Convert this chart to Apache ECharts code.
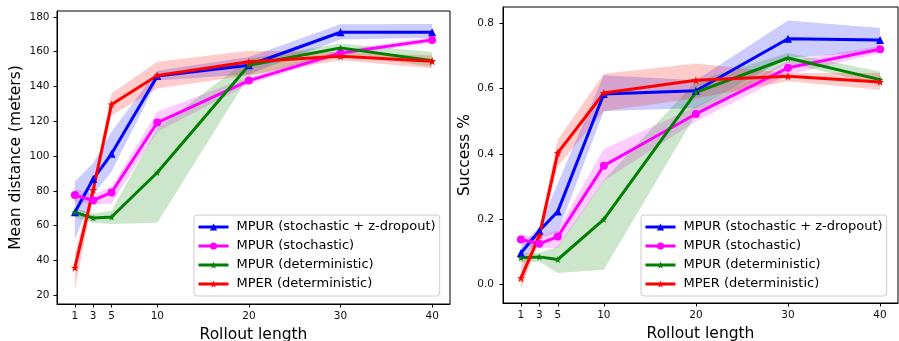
<!DOCTYPE html>
<html>
<head>
<meta charset="utf-8">
<script src="https://cdn.jsdelivr.net/npm/echarts@6/dist/echarts.min.js"></script>
<style>
  html, body { margin: 0; padding: 0; background: #fff; }
  #chart { width: 899px; height: 341px; }
</style>
</head>
<body>
<div id="chart"></div>
<script>
// rollout lengths (x)
const rollout = [1, 3, 5, 10, 20, 30, 40];

// left panel: mean distance (meters)
const distZdropMean = [67.7, 86.8, 101.3, 146.1, 152.2, 171.2, 171.2];
const distZdropLo   = [52, 78, 91, 143.5, 147, 167, 168];
const distZdropHi   = [85.3, 96, 114, 149, 157, 175.8, 176];
const distStochMean = [77.6, 74.5, 79.1, 119.3, 143.4, 159.3, 166.8];
const distStochLo   = [73.8, 72.4, 72.8, 114, 141.3, 158, 165];
const distStochHi   = [81.4, 77.6, 82.4, 125.5, 145.6, 160.9, 168.5];
const distDetMean   = [67.7, 64.4, 65, 90.6, 152.2, 162.2, 154.8];
const distDetLo     = [65, 61.7, 61, 61.7, 146, 159, 151.3];
const distDetHi     = [70, 67, 68.6, 116, 156, 164.7, 159.8];
const distMperMean  = [35.9, 80.5, 129.7, 146.3, 154.2, 157.4, 154.5];
const distMperLo    = [23, 76.7, 123.5, 138.9, 146.5, 155.1, 150.5];
const distMperHi    = [44, 83.3, 136, 154.2, 160.5, 159.9, 157.8];

// right panel: success rate
const sucZdropMean = [0.097, 0.165, 0.224, 0.583, 0.593, 0.752, 0.748];
const sucZdropLo   = [0.071, 0.143, 0.16, 0.53, 0.54, 0.693, 0.713];
const sucZdropHi   = [0.117, 0.178, 0.31, 0.64, 0.625, 0.808, 0.785];
const sucStochMean = [0.138, 0.125, 0.147, 0.364, 0.522, 0.663, 0.72];
const sucStochLo   = [0.122, 0.112, 0.112, 0.318, 0.499, 0.642, 0.708];
const sucStochHi   = [0.153, 0.146, 0.168, 0.415, 0.545, 0.683, 0.73];
const sucDetMean   = [0.082, 0.085, 0.077, 0.2, 0.588, 0.693, 0.627];
const sucDetLo     = [0.066, 0.071, 0.036, 0.046, 0.52, 0.678, 0.611];
const sucDetHi     = [0.097, 0.097, 0.117, 0.32, 0.622, 0.708, 0.652];
const sucMperMean  = [0.02, 0.15, 0.403, 0.586, 0.625, 0.637, 0.62];
const sucMperLo    = [-0.015, 0.137, 0.362, 0.53, 0.57, 0.622, 0.596];
const sucMperHi    = [0.056, 0.173, 0.443, 0.645, 0.676, 0.647, 0.647];

const names = ['MPUR (stochastic + z-dropout)', 'MPUR (stochastic)', 'MPUR (deterministic)', 'MPER (deterministic)'];
const xTicks = [1, 3, 5, 10, 20, 30, 40];
const distTicks = [20, 40, 60, 80, 100, 120, 140, 160, 180];
const sucTicks = [0, 0.2, 0.4, 0.6, 0.8];

const star = 'path://M0,-10L2.35,-3.24L9.51,-3.09L3.8,1.24L5.88,8.09L0,4L-5.88,8.09L-3.8,1.24L-9.51,-3.09L-2.35,-3.24Z';
const styles = [
  {color: '#0000ff', band: 'rgba(0,0,255,0.2)', symbol: 'triangle', size: 8},
  {color: '#ff00ff', band: 'rgba(255,0,255,0.2)', symbol: 'circle', size: 8},
  {color: '#008000', band: 'rgba(0,128,0,0.2)', symbol: star, size: 7},
  {color: '#ff0000', band: 'rgba(255,0,0,0.2)', symbol: star, size: 8}
];
const FONT = 'DejaVu Sans';

function zip(xs, a, b) {
  return xs.map((x, i) => b ? [x, a[i], b[i]] : [x, a[i]]);
}

function bandSeries(idx, lo, hi, k) {
  return {
    type: 'custom', name: 'band' + idx + k,
    xAxisIndex: idx, yAxisIndex: idx, z: 1, silent: true,
    data: zip(rollout, lo, hi),
    encode: {x: 0, y: [1, 2]},
    renderItem(params, api) {
      if (params.dataIndexInside !== 0) return;
      const n = params.dataInsideLength;
      const top = [], bot = [];
      for (let i = 0; i < n; i++) {
        top.push(api.coord([api.value(0, i), api.value(2, i)]));
        bot.push(api.coord([api.value(0, i), api.value(1, i)]));
      }
      return {
        type: 'polygon',
        shape: {points: top.concat(bot.reverse())},
        style: {fill: styles[k].band, stroke: null}
      };
    }
  };
}

function lineSeries(idx, vals, k) {
  const s = styles[k];
  return {
    type: 'line', name: names[k], xAxisIndex: idx, yAxisIndex: idx, z: 3,
    data: zip(rollout, vals),
    symbol: s.symbol, symbolSize: s.size, showAllSymbol: true,
    lineStyle: {width: 3, color: s.color},
    itemStyle: {color: s.color}
  };
}

function xAxis(idx) {
  return {
    type: 'value', gridIndex: idx, min: -0.95, max: 41.95,
    name: 'Rollout length', nameLocation: 'middle', nameGap: 22,
    nameTextStyle: {fontSize: 15.5, fontFamily: FONT, color: '#000'},
    axisLine: {show: true, onZero: false, lineStyle: {color: '#000', width: 1}},
    axisTick: {show: true, length: 3.5, customValues: xTicks, lineStyle: {color: '#000'}},
    axisLabel: {customValues: xTicks, fontSize: 10.5, fontFamily: FONT, color: '#111', margin: 7},
    splitLine: {show: false}
  };
}

function yAxis(idx, name, min, max, ticks, gap, margin, fmt) {
  return {
    type: 'value', gridIndex: idx, min: min, max: max,
    name: name, nameLocation: 'middle', nameGap: gap,
    nameTextStyle: {fontSize: 15.5, fontFamily: FONT, color: '#000'},
    axisLine: {show: true, onZero: false, lineStyle: {color: '#000', width: 1}},
    axisTick: {show: true, length: 3.5, customValues: ticks, lineStyle: {color: '#000'}},
    axisLabel: {customValues: ticks, fontSize: 10.5, fontFamily: FONT, color: '#111', margin: margin, formatter: fmt},
    splitLine: {show: false}
  };
}

function legend(left) {
  return {
    orient: 'vertical', left: left, top: 215,
    padding: [5, 4, 5, 3], itemGap: 5, itemWidth: 30, itemHeight: 9,
    backgroundColor: 'rgba(255,255,255,0.8)', borderColor: '#cccccc', borderWidth: 1, borderRadius: 3,
    textStyle: {fontSize: 13, fontFamily: FONT, color: '#000', lineHeight: 14, padding: [0, 0, 0, 3]},
    lineStyle: {width: 3},
    data: names
  };
}

const chart = echarts.init(document.getElementById('chart'));
chart.setOption({
  animation: false,
  backgroundColor: '#fff',
  textStyle: {fontFamily: FONT},
  grid: [
    {left: 57, top: 11, width: 393, height: 293, outerBoundsMode: 'none', show: true, borderColor: '#000', borderWidth: 1, backgroundColor: 'transparent'},
    {left: 503, top: 7, width: 395, height: 296, outerBoundsMode: 'none', show: true, borderColor: '#000', borderWidth: 1, backgroundColor: 'transparent'}
  ],
  xAxis: [xAxis(0), xAxis(1)],
  yAxis: [
    yAxis(0, 'Mean distance (meters)', 15, 183.4, distTicks, 33, 7.5, v => String(v)),
    yAxis(1, 'Success %', -0.056, 0.849, sucTicks, 30, 9, v => v.toFixed(1))
  ],
  legend: [legend(194), legend(641)],
  series: [
    bandSeries(0, distZdropLo, distZdropHi, 0),
    bandSeries(0, distStochLo, distStochHi, 1),
    bandSeries(0, distDetLo, distDetHi, 2),
    bandSeries(0, distMperLo, distMperHi, 3),
    lineSeries(0, distZdropMean, 0),
    lineSeries(0, distStochMean, 1),
    lineSeries(0, distDetMean, 2),
    lineSeries(0, distMperMean, 3),
    bandSeries(1, sucZdropLo, sucZdropHi, 0),
    bandSeries(1, sucStochLo, sucStochHi, 1),
    bandSeries(1, sucDetLo, sucDetHi, 2),
    bandSeries(1, sucMperLo, sucMperHi, 3),
    lineSeries(1, sucZdropMean, 0),
    lineSeries(1, sucStochMean, 1),
    lineSeries(1, sucDetMean, 2),
    lineSeries(1, sucMperMean, 3)
  ]
});
</script>
</body>
</html>
